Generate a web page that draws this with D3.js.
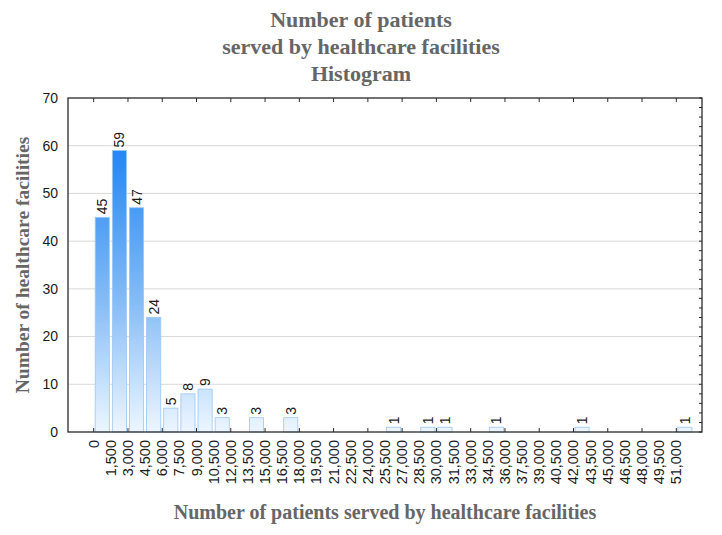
<!DOCTYPE html>
<html>
<head>
<meta charset="utf-8">
<script src="https://cdn.jsdelivr.net/npm/d3@7"></script>
<style>
  body { margin: 0; background: #fff; }
  svg { display: block; }
  .axis-title { font-family: 'Liberation Serif', serif; font-weight: bold; fill: #666; }
  .tick-label { font-family: 'Liberation Sans', Arial, sans-serif; fill: #1a1a1a; }
</style>
</head>
<body>
<svg width="722" height="535"></svg>
<script>
// histogram bins (lower edge of each 1,500 wide bin)
const binStarts = [0, 1500, 3000, 4500, 6000, 7500, 9000, 10500, 12000, 13500, 15000, 16500,
  18000, 19500, 21000, 22500, 24000, 25500, 27000, 28500, 30000, 31500, 33000, 34500,
  36000, 37500, 39000, 40500, 42000, 43500, 45000, 46500, 48000, 49500, 51000]
const counts = [45, 59, 47, 24, 5, 8, 9, 3, 0, 3, 0, 3, 0, 0, 0, 0, 0, 1, 0, 1, 1, 0, 0, 1,
  0, 0, 0, 0, 1, 0, 0, 0, 0, 0, 1]
const binWidth = 1500
const yTicks = [0, 10, 20, 30, 40, 50, 60, 70]
const xMajorTicks = [0, 3000, 6000, 9000, 12000, 15000, 18000, 21000, 24000, 27000, 30000,
  33000, 36000, 39000, 42000, 45000, 48000, 51000]
const titleLines = ['Number of patients', 'served by healthcare facilities', 'Histogram']

const margin = { top: 98, right: 20, bottom: 103, left: 68 }
const width = 722
const height = 535

const svg = d3.select('svg')
const format = d3.format(',')

const data = binStarts.map((b, i) => ({ start: b, value: counts[i] }))

const x = d3.scaleLinear()
  .domain([-2250, 53250])
  .range([margin.left, width - margin.right])

const y = d3.scaleLinear()
  .domain([0, 70])
  .range([height - margin.bottom, margin.top])

// gradient for bars (tied to the plot area, not the bar)
const grad = svg.append('defs').append('linearGradient')
  .attr('id', 'barGrad')
  .attr('gradientUnits', 'userSpaceOnUse')
  .attr('x1', 0).attr('x2', 0)
  .attr('y1', y(62)).attr('y2', y(0))
grad.append('stop').attr('offset', '0%').attr('stop-color', '#1a82f3')
grad.append('stop').attr('offset', '55%').attr('stop-color', '#83bbf6')
grad.append('stop').attr('offset', '100%').attr('stop-color', '#eef6ff')

// grid
svg.append('g')
  .selectAll('line')
  .data(yTicks.filter(d => d > 0 && d < 70))
  .join('line')
  .attr('x1', margin.left)
  .attr('x2', width - margin.right)
  .attr('y1', d => y(d))
  .attr('y2', d => y(d))
  .attr('stroke', '#d9d9d9')
  .attr('stroke-width', 1)

// bars
svg.append('g')
  .selectAll('rect')
  .data(data.filter(d => d.value > 0))
  .join('rect')
  .attr('x', d => x(d.start) + 1.5)
  .attr('y', d => y(d.value))
  .attr('width', x(binWidth) - x(0) - 3)
  .attr('height', d => y(0) - y(d.value))
  .attr('fill', 'url(#barGrad)')
  .attr('stroke', '#9cc6f4')
  .attr('stroke-width', 0.8)

// bar value labels
svg.append('g')
  .attr('class', 'tick-label')
  .attr('font-size', 14)
  .selectAll('text')
  .data(data.filter(d => d.value > 0))
  .join('text')
  .attr('transform', d => `translate(${x(d.start + binWidth / 2) + 5},${y(d.value) - 3}) rotate(-90)`)
  .attr('text-anchor', 'start')
  .text(d => d.value)

// frame
svg.append('rect')
  .attr('x', x.range()[0])
  .attr('y', margin.top)
  .attr('width', x.range()[1] - x.range()[0])
  .attr('height', y(0) - margin.top)
  .attr('fill', 'none')
  .attr('stroke', '#2a2a2a')
  .attr('stroke-width', 1.3)

// bottom ticks (inward) and mirrored top ticks
svg.append('g')
  .selectAll('line')
  .data(xMajorTicks)
  .join('line')
  .attr('x1', d => x(d)).attr('x2', d => x(d))
  .attr('y1', y(0)).attr('y2', y(0) - 4)
  .attr('stroke', '#2a2a2a')
svg.append('g')
  .selectAll('line')
  .data(xMajorTicks)
  .join('line')
  .attr('x1', d => x(d)).attr('x2', d => x(d))
  .attr('y1', margin.top).attr('y2', margin.top + 4)
  .attr('stroke', '#2a2a2a')

// right axis minor ticks
svg.append('g')
  .selectAll('line')
  .data(y.ticks(35))
  .join('line')
  .attr('x1', width - margin.right).attr('x2', width - margin.right - 3)
  .attr('y1', d => y(d)).attr('y2', d => y(d))
  .attr('stroke', '#2a2a2a')

// x tick labels (one per bin edge)
svg.append('g')
  .attr('class', 'tick-label')
  .attr('font-size', 14.5)
  .selectAll('text')
  .data(binStarts)
  .join('text')
  .attr('transform', d => `translate(${x(d) + 5},${y(0) + 8}) rotate(-90)`)
  .attr('text-anchor', 'end')
  .text(d => format(d))

// y tick labels
svg.append('g')
  .attr('class', 'tick-label')
  .attr('font-size', 14)
  .selectAll('text')
  .data(yTicks)
  .join('text')
  .attr('x', margin.left - 10)
  .attr('y', d => y(d))
  .attr('dy', '0.35em')
  .attr('text-anchor', 'end')
  .text(d => d)

// titles
svg.append('g')
  .attr('class', 'axis-title')
  .attr('font-size', 22)
  .selectAll('text')
  .data(titleLines)
  .join('text')
  .attr('x', width / 2)
  .attr('y', (d, i) => 27 + i * 27)
  .attr('text-anchor', 'middle')
  .text(d => d)

svg.append('text')
  .attr('class', 'axis-title')
  .attr('font-size', 20)
  .attr('x', (x.range()[0] + x.range()[1]) / 2)
  .attr('y', 519)
  .attr('text-anchor', 'middle')
  .text('Number of patients served by healthcare facilities')

svg.append('text')
  .attr('class', 'axis-title')
  .attr('font-size', 19.5)
  .attr('transform', `translate(29,${(y(0) + margin.top) / 2}) rotate(-90)`)
  .attr('text-anchor', 'middle')
  .text('Number of healthcare facilities')
</script>
</body>
</html>
